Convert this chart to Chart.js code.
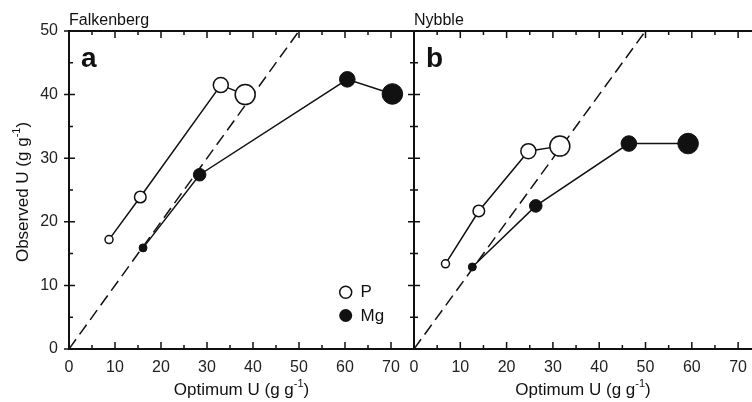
<!DOCTYPE html>
<html>
<head>
<meta charset="utf-8">
<script src="https://cdn.jsdelivr.net/npm/chart.js@4"></script>
<style>
  body { margin: 0; background: #fff; }
  #wrap { position: relative; width: 752px; height: 402px; overflow: hidden; }
  #left { position: absolute; left: 0; top: 0; }
  #right { position: absolute; left: 400px; top: 0; }
</style>
</head>
<body>
<div id="wrap">
  <canvas id="left" width="416" height="402"></canvas>
  <canvas id="right" width="352" height="402"></canvas>
</div>
<script>
// Observed vs optimum U, Falkenberg (a) and Nybble (b)
const xTickValues = [0, 10, 20, 30, 40, 50, 60, 70];
const yTickValues = [0, 10, 20, 30, 40, 50];
const oneToOneX = [0, 50];
const oneToOneY = [0, 50];

const falkP_x = [8.7, 15.5, 33.0, 38.3];
const falkP_y = [17.2, 23.9, 41.5, 40.0];
const falkMg_x = [16.1, 28.4, 60.5, 70.3];
const falkMg_y = [15.9, 27.4, 42.4, 40.1];

const nybP_x = [6.8, 14.0, 24.7, 31.5];
const nybP_y = [13.4, 21.7, 31.1, 31.9];
const nybMg_x = [12.6, 26.3, 46.4, 59.2];
const nybMg_y = [12.9, 22.5, 32.3, 32.3];

const sizeP = [4, 5.8, 7.5, 10];
const sizeMg = [4, 6.3, 7.8, 10.3];

const FONT = 'Liberation Sans, Arial, sans-serif';

function pts(xs, ys) {
  return xs.map((x, i) => ({ x: x, y: ys[i] }));
}

function drawSup(ctx, x, y, parts, align) {
  // parts: [text, sup?]
  let total = 0;
  parts.forEach(p => {
    ctx.font = (p[1] ? '11px ' : '17px ') + FONT;
    total += ctx.measureText(p[0]).width;
  });
  let cx = align === 'center' ? x - total / 2 : x;
  parts.forEach(p => {
    ctx.font = (p[1] ? '11px ' : '17px ') + FONT;
    ctx.fillText(p[0], cx, p[1] ? y - 8 : y);
    cx += ctx.measureText(p[0]).width;
  });
}

// box + inward ticks + texts
function framePlugin(opts) {
  return {
    id: 'frame',
    afterDraw(chart) {
      const ctx = chart.ctx;
      const a = chart.chartArea;
      const xs = chart.scales.x, ys = chart.scales.y;
      ctx.save();
      ctx.strokeStyle = '#111';
      ctx.fillStyle = '#111';
      ctx.lineWidth = 2;
      ctx.beginPath();
      ctx.moveTo(a.left, a.top); ctx.lineTo(a.right + 2, a.top);
      ctx.moveTo(a.left, a.bottom); ctx.lineTo(a.right + 2, a.bottom);
      ctx.moveTo(a.left, a.top - 1); ctx.lineTo(a.left, a.bottom + 1);
      if (opts.rightBorder) { ctx.moveTo(a.right, a.top - 1); ctx.lineTo(a.right, a.bottom + 1); }
      ctx.stroke();

      ctx.lineWidth = 1.5;
      ctx.beginPath();
      for (let v = 0; v <= xs.max; v += 5) {
        const px = xs.getPixelForValue(v);
        const len = v % 10 === 0 ? 7 : 4;
        ctx.moveTo(px, a.bottom); ctx.lineTo(px, a.bottom - len);
        ctx.moveTo(px, a.top); ctx.lineTo(px, a.top + len);
      }
      for (let v = 0; v <= 50; v += 5) {
        const py = ys.getPixelForValue(v);
        const len = v % 10 === 0 ? 6 : 4;
        ctx.moveTo(a.left, py); ctx.lineTo(a.left + len, py);
        if (opts.outTicks && v % 10 === 0) { ctx.moveTo(a.left, py); ctx.lineTo(a.left - 5, py); }
        if (opts.rightBorder) { ctx.moveTo(a.right, py); ctx.lineTo(a.right - len, py); }
      }
      ctx.stroke();

      // site name
      ctx.textAlign = 'left';
      ctx.textBaseline = 'alphabetic';
      ctx.font = '16px ' + FONT;
      ctx.fillText(opts.site, a.left, 25);
      // panel letter
      ctx.font = 'bold 28px ' + FONT;
      ctx.fillText(opts.letter, a.left + 12, 67);
      // x title
      drawSup(ctx, (a.left + a.right) / 2, 395,
        [['Optimum U (g g', false], ['-1', true], [')', false]], 'center');

      if (opts.yTitle) {
        ctx.save();
        ctx.translate(28, 192);
        ctx.rotate(-Math.PI / 2);
        drawSup(ctx, 0, 0, [['Observed U (g g', false], ['-1', true], [')', false]], 'center');
        ctx.restore();
      }
      if (opts.legend) {
        const lx = 345.7;
        ctx.lineWidth = 1.5;
        ctx.beginPath(); ctx.arc(lx, 292.3, 6, 0, Math.PI * 2);
        ctx.fillStyle = '#fff'; ctx.fill(); ctx.stroke();
        ctx.fillStyle = '#111';
        ctx.beginPath(); ctx.arc(lx, 315.5, 6.5, 0, Math.PI * 2); ctx.fill();
        ctx.font = '17px ' + FONT;
        ctx.textBaseline = 'middle';
        ctx.fillText('P', 360.5, 292.5);
        ctx.fillText('Mg', 360.5, 316);
      }
      ctx.restore();
    }
  };
}

function makeChart(id, pData, mgData, xMax, opts, padding) {
  return new Chart(document.getElementById(id), {
    type: 'scatter',
    data: {
      datasets: [
        {
          label: 'P',
          data: pData,
          showLine: true,
          borderColor: '#111',
          borderWidth: 1.5,
          pointBackgroundColor: '#fff',
          pointBorderColor: '#111',
          pointBorderWidth: 1.5,
          pointRadius: sizeP
        },
        {
          label: 'Mg',
          data: mgData,
          showLine: true,
          borderColor: '#111',
          borderWidth: 1.5,
          pointBackgroundColor: '#111',
          pointBorderColor: '#111',
          pointBorderWidth: 1,
          pointRadius: sizeMg
        },
        {
          label: '1:1',
          data: pts(oneToOneX, oneToOneY),
          showLine: true,
          borderColor: '#111',
          borderWidth: 1.5,
          borderDash: [12, 6],
          pointRadius: 0
        }
      ]
    },
    options: {
      responsive: false,
      animation: false,
      layout: { padding: padding, autoPadding: false },
      plugins: { legend: { display: false }, tooltip: { enabled: false } },
      scales: {
        x: {
          type: 'linear',
          min: 0,
          max: xMax,
          afterBuildTicks: s => { s.ticks = xTickValues.map(v => ({ value: v })); },
          afterFit: s => { s.height = 53 - padding.bottom; },
          grid: { display: false },
          border: { display: false },
          ticks: { color: '#222', padding: 1, font: { size: 16, family: FONT }, maxRotation: 0, autoSkip: false }
        },
        y: {
          type: 'linear',
          min: 0,
          max: 50,
          display: opts.yLabels,
          afterBuildTicks: s => { s.ticks = yTickValues.map(v => ({ value: v })); },
          afterFit: s => { s.width = opts.yLabels ? 69 - padding.left : 0; },
          grid: { display: false },
          border: { display: false },
          ticks: { color: '#222', padding: 3, font: { size: 16, family: FONT } }
        }
      }
    },
    plugins: [framePlugin(opts)]
  });
}

makeChart('left', pts(falkP_x, falkP_y), pts(falkMg_x, falkMg_y), 75,
  { site: 'Falkenberg', letter: 'a', yTitle: true, legend: true, rightBorder: true, outTicks: true, yLabels: true },
  { left: 0, right: 2, top: 31, bottom: 0 });

makeChart('right', pts(nybP_x, nybP_y), pts(nybMg_x, nybMg_y), 73,
  { site: 'Nybble', letter: 'b', yTitle: false, legend: false, rightBorder: false, outTicks: false, yLabels: false },
  { left: 14, right: 0, top: 31, bottom: 0 });
</script>
</body>
</html>
